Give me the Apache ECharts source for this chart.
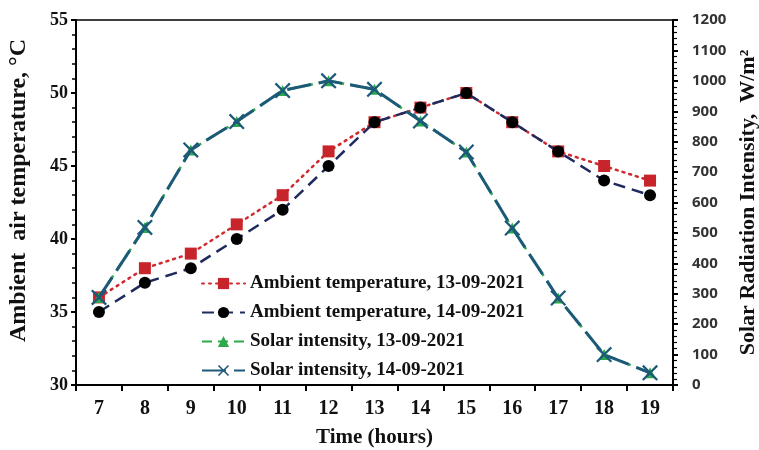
<!DOCTYPE html>
<html><head><meta charset="utf-8">
<script src="https://cdn.jsdelivr.net/npm/echarts@6/dist/echarts.min.js"></script>
<style>html,body{margin:0;padding:0;background:#fff}#c{width:759px;height:450px}</style>
</head><body><div id="c"></div>
<script>
var hours = ['7','8','9','10','11','12','13','14','15','16','17','18','19'];
var tempDay1 = [36,38,39,41,43,46,48,49,50,48,46,45,44];
var tempDay2 = [35,37,38,40,42,45,48,49,50,48,46,44,43];
var solarDay1 = [288,518,773,866,968,1000,972,868,766,516,286,100,40];
var solarDay2 = [288,518,773,866,968,1000,972,868,766,516,286,100,40];
var leftTicks = [30,35,40,45,50,55];
var rightTicks = [0,100,200,300,400,500,600,700,800,900,1000,1100,1200];

var serif = '"Liberation Serif","DejaVu Serif",serif';
var cross = 'path://M0,2 L2,0 L10,8 L18,0 L20,2 L12,10 L20,18 L18,20 L10,12 L2,20 L0,18 L8,10 Z';
var chart = echarts.init(document.getElementById('c'));
chart.setOption({
  animation:false,
  grid:{left:76,right:86,top:20,bottom:65,show:true,borderColor:'#000',borderWidth:1.5,outerBoundsMode:'none',containLabel:false},
  legend:{
    orient:'vertical', left:196, top:269, itemWidth:43, itemHeight:14, itemGap:10,
    textStyle:{fontFamily:serif,fontWeight:'bold',fontSize:19,color:'#111'},
    data:['Ambient temperature, 13-09-2021','Ambient temperature, 14-09-2021','Solar intensity, 13-09-2021','Solar intensity, 14-09-2021']
  },
  xAxis:{
    type:'category', data:hours, boundaryGap:true,
    name:'Time (hours)', nameLocation:'middle', nameGap:42,
    nameTextStyle:{fontFamily:serif,fontWeight:'bold',fontSize:21,color:'#111'},
    axisLine:{lineStyle:{color:'#000',width:2}},
    axisTick:{show:true,length:6,lineStyle:{color:'#000',width:2}},
    axisLabel:{fontFamily:serif,fontWeight:'bold',fontSize:20,color:'#111',margin:14}
  },
  yAxis:[{
    type:'value', min:leftTicks[0], max:leftTicks[leftTicks.length-1], interval:5,
    name:'Ambient  air temperature, °C', nameLocation:'middle', nameGap:45,
    nameTextStyle:{fontFamily:serif,fontWeight:'bold',fontSize:24,color:'#111',padding:[0,0,0,24]},
    axisLine:{show:true,lineStyle:{color:'#000',width:2}},
    axisTick:{show:true,length:5,lineStyle:{color:'#000',width:2}},
    minorTick:{show:true,splitNumber:5,length:4,lineStyle:{color:'#000',width:1.5}},
    splitLine:{show:false},
    axisLabel:{fontFamily:serif,fontWeight:'bold',fontSize:18,color:'#111',margin:8}
  },{
    type:'value', min:rightTicks[0], max:rightTicks[rightTicks.length-1], interval:100,
    name:'Solar Radiation Intensity,  W/m²', nameLocation:'middle', nameGap:63,
    nameTextStyle:{fontFamily:serif,fontWeight:'bold',fontSize:22,color:'#111'},
    axisLine:{show:true,lineStyle:{color:'#000',width:2}},
    axisTick:{show:true,length:5,lineStyle:{color:'#000',width:2}},
    minorTick:{show:true,splitNumber:5,length:4,lineStyle:{color:'#000',width:1.2}},
    splitLine:{show:false},
    axisLabel:{fontFamily:'"Open Sans","Liberation Sans",sans-serif',fontWeight:'bold',fontSize:15,color:'#333',margin:19,
      formatter:function(v){return String(v);}}
  }],
  series:[
    {name:'Ambient temperature, 13-09-2021',type:'line',yAxisIndex:0,data:tempDay1,
     symbol:'rect',symbolSize:12,itemStyle:{color:'#C8242B'},
     lineStyle:{color:'#D0282E',width:2.5,type:[2,5],cap:'round'},z:3},
    {name:'Ambient temperature, 14-09-2021',type:'line',yAxisIndex:0,data:tempDay2,
     symbol:'circle',symbolSize:12,itemStyle:{color:'#000'},
     lineStyle:{color:'#1F2A5E',width:2.5,type:[12,7]},z:4},
    {name:'Solar intensity, 13-09-2021',type:'line',yAxisIndex:1,data:solarDay1,
     symbol:'triangle',symbolSize:11,itemStyle:{color:'#2DA84A'},
     lineStyle:{color:'#2DA84A',width:2.5,type:[10,6]},z:5},
    {name:'Solar intensity, 14-09-2021',type:'line',yAxisIndex:1,data:solarDay2,
     symbol:cross,symbolSize:16,itemStyle:{color:'#1D5A7A'},
     lineStyle:{color:'#1D5A7A',width:3,type:[24,8]},z:6}
  ]
});
</script></body></html>
